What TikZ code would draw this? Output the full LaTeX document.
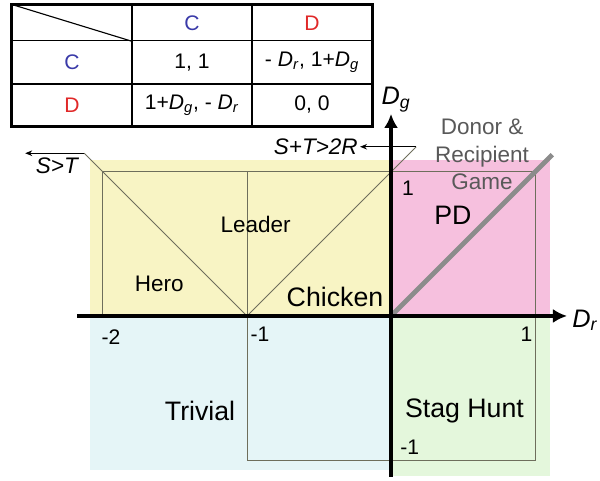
\documentclass[tikz,border=0pt]{standalone}
\usepackage{fontspec}
\setmainfont{Liberation Sans}
\usetikzlibrary{arrows.meta}

\definecolor{zoneyellow}{HTML}{F8F4C4}
\definecolor{zonepink}{HTML}{F6C0DE}
\definecolor{zoneblue}{HTML}{E5F5F7}
\definecolor{zonegreen}{HTML}{E4F7DC}
\definecolor{coopblue}{HTML}{3A3AA8}
\definecolor{defred}{HTML}{E02828}
\definecolor{gridline}{HTML}{6E6E5C}

\newcommand{\Dsub}[1]{\textit{D}\textsubscript{\textit{#1}}}

\begin{document}
\begin{tikzpicture}[x=3.6cm, y=3.6cm,
    cell/.style={draw, line width=0.8pt, rectangle, minimum width=3cm, inner sep=0pt, font=\fontsize{15}{18}\selectfont},
    zone/.style={font=\fontsize{19}{22}\selectfont},
    small/.style={font=\fontsize{16}{19}\selectfont},
    tick/.style={font=\fontsize{15}{18}\selectfont},
    cond/.style={font=\fontsize{16}{19}\selectfont\itshape, inner sep=1.5pt},
    axislbl/.style={font=\fontsize{18}{21}\selectfont},
    grid/.style={gridline, line width=0.7pt},
    axis/.style={line width=3.5pt, -{Latex[length=10pt, width=10pt]}}]
    \useasboundingbox (-2.715,-1.139) rectangle (1.451,2.194);

    % Payoff table
    \node[cell, minimum height=0.9cm] (h0) at (-2.2155,2.035) {};
    \node[cell, minimum height=0.9cm, text=coopblue] (hc) at (-1.382,2.035) {C};
    \node[cell, minimum height=0.9cm, text=defred] (hd) at (-0.5485,2.035) {D};
    \node[cell, minimum height=1.076cm, text=coopblue] (rc) at (-2.2155,1.7605) {C};
    \node[cell, minimum height=1.076cm] (cc) at (-1.382,1.7605) {1, 1};
    \node[cell, minimum height=1.076cm] (cd) at (-0.5485,1.7605) {- \Dsub{r}, 1+\Dsub{g}};
    \node[cell, minimum height=1.051cm, text=defred] (rd) at (-2.2155,1.465) {D};
    \node[cell, minimum height=1.051cm] (dc) at (-1.382,1.465) {1+\Dsub{g}, - \Dsub{r}};
    \node[cell, minimum height=1.051cm] (dd) at (-0.5485,1.465) {0, 0};
    \draw[line width=0.8pt] (h0.north west) -- (h0.south east);
    \draw[line width=2.2pt] (h0.north west) rectangle (dd.south east);

    % Regions
    \fill[zoneyellow] (-2.09,0) rectangle (0,1.083);
    \fill[zonepink] (0,0) rectangle (1.104,1.083);
    \fill[zoneblue] (-2.09,-1.07) rectangle (0,0);
    \fill[zonegreen] (0,-1.11) rectangle (1.104,0);

    % Points
    \coordinate (o) at (0,0);
    \coordinate (m1) at (-1,0);
    \coordinate (m2) at (-2,0);
    \coordinate (m2top) at (-2,1);
    \coordinate (m1top) at (-1,1);
    \coordinate (p1top) at (1,1);
    \coordinate (p1bot) at (1,-1);
    \coordinate (m1bot) at (-1,-1);
    \coordinate (heroEnd) at (-2.13,1.13);
    \coordinate (heroTip) at (-2.54,1.13);
    \coordinate (sumEnd) at (0.175,1.175);
    \coordinate (sumTip) at (-0.215,1.175);
    \coordinate (drgEnd) at (1.12,1.12);
    \coordinate (xl) at (-2.18,0);
    \coordinate (xr) at (1.222,0);
    \coordinate (yb) at (0,-1.118);
    \coordinate (yt) at (0,1.403);

    % Lines
    \draw[grid] (m2) -- (m2top) -- (p1top) -- (p1bot) -- (m1bot) -- (m1top);
    \draw[grid] (heroEnd) -- (m1) -- (sumEnd);
    \draw[line width=0.7pt, -{Stealth[length=5pt, width=4pt]}] (heroEnd) -- (heroTip);
    \draw[line width=0.7pt, -{Stealth[length=5pt, width=4pt]}] (sumEnd) -- (sumTip);
    \draw[line width=3.5pt, black!45] (o) -- (drgEnd);

    % Axes
    \draw[axis] (xl) -- (xr);
    \draw[axis] (yb) -- (yt);

    % Labels
    \node[axislbl] (dg) at (0.035,1.5) {\Dsub{g}};
    \node[axislbl] (dr) at (1.347,-0.03) {\Dsub{r}};
    \node[cond] (sgt) at (-2.32,1.045) {S>T};
    \node[cond, anchor=east] (sumlbl) at (sumTip) {S+T>2R};
    \node[tick] (xm2) at (-1.944,-0.146) {-2};
    \node[tick] (xm1) at (-0.91,-0.13) {-1};
    \node[tick] (xp1) at (0.94,-0.13) {1};
    \node[tick] (yp1) at (0.118,0.89) {1};
    \node[tick] (ym1) at (0.13,-0.91) {-1};
    \node[small] (hero) at (-1.61,0.222) {Hero};
    \node[small] (leader) at (-0.94,0.632) {Leader};
    \node[zone] (chicken) at (-0.389,0.132) {Chicken};
    \node[zone] (pd) at (0.43,0.70) {PD};
    \node[zone] (trivial) at (-1.326,-0.66) {Trivial};
    \node[zone] (stag) at (0.51,-0.66) {Stag Hunt};
    \node[small, align=center, text=black!65, font=\fontsize{16}{19.5}\selectfont] (drg) at (0.632,1.12) {Donor \&\\Recipient\\Game};
\end{tikzpicture}
\end{document}
